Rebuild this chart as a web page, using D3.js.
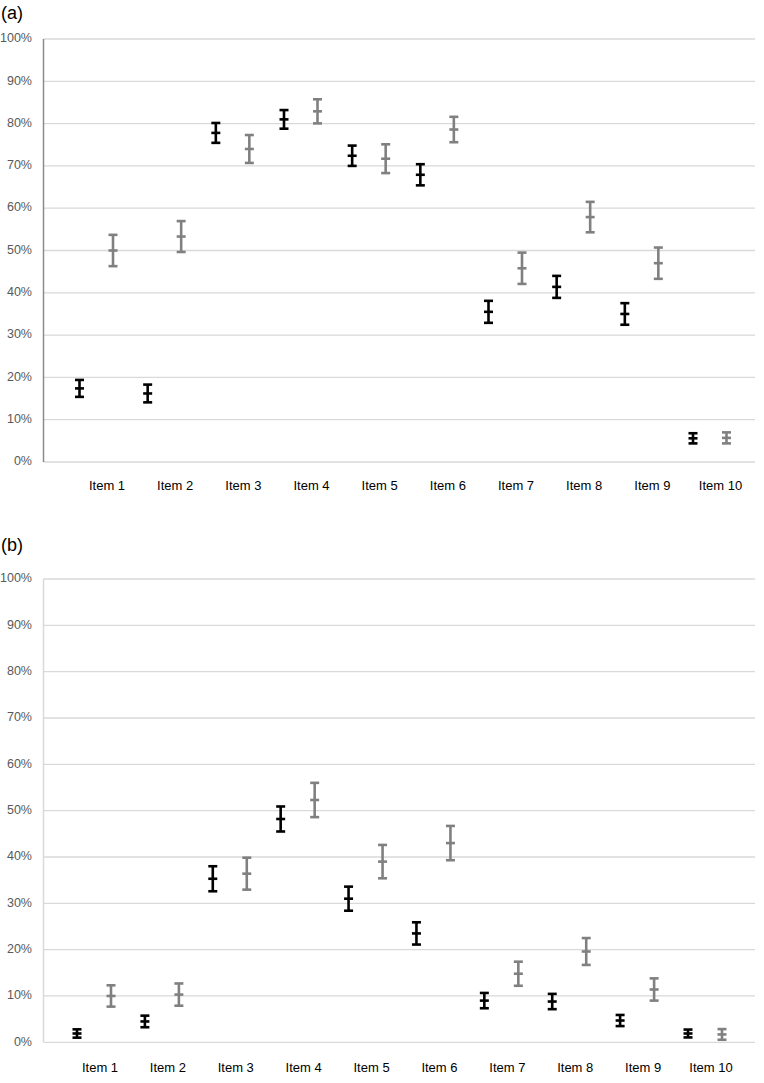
<!DOCTYPE html>
<html>
<head>
<meta charset="utf-8">
<script src="https://cdn.jsdelivr.net/npm/d3@7"></script>
<style>
  html, body { margin: 0; padding: 0; background: #fff; }
  svg { display: block; }
  text { font-family: "Liberation Sans", Arial, sans-serif; }
</style>
</head>
<body>
<svg id="chart" width="764" height="1083"></svg>
<script>
// ---- Data ----
const categories = ["Item 1", "Item 2", "Item 3", "Item 4", "Item 5", "Item 6", "Item 7", "Item 8", "Item 9", "Item 10"];
const tickValues = [0, 10, 20, 30, 40, 50, 60, 70, 80, 90, 100];
const tickLabels = ["0%", "10%", "20%", "30%", "40%", "50%", "60%", "70%", "80%", "90%", "100%"];
const panelTitles = ["(a)", "(b)"];

// Panel (a)
const aBlackMean = [17.4, 16.2, 77.8, 81.0, 72.4, 67.9, 35.5, 41.4, 35.0, 5.6];
const aBlackErr  = [2.0, 2.1, 2.35, 2.2, 2.4, 2.5, 2.6, 2.6, 2.55, 1.2];
const aGrayMean  = [50.0, 53.3, 74.0, 82.9, 71.7, 78.6, 45.8, 57.9, 47.0, 5.7];
const aGrayErr   = [3.7, 3.65, 3.3, 2.85, 3.4, 3.0, 3.7, 3.6, 3.7, 1.3];

// Panel (b)
const bBlackMean = [1.9, 4.5, 35.3, 48.2, 31.0, 23.5, 9.0, 8.8, 4.7, 1.9];
const bBlackErr  = [0.9, 1.25, 2.7, 2.7, 2.6, 2.4, 1.65, 1.65, 1.2, 0.85];
const bGrayMean  = [10.0, 10.3, 36.4, 52.3, 39.0, 43.0, 14.8, 19.6, 11.4, 1.7];
const bGrayErr   = [2.3, 2.4, 3.45, 3.7, 3.6, 3.7, 2.6, 2.9, 2.4, 1.15];

// ---- Layout ----
const panels = [
  { title: panelTitles[0], top: 39, bottom: 462, xr: [96, 709.5], labelY: 487, labelShift: 11, axisColor: "#8c8c8c", titleY: 14,
    series: [{ mean: aBlackMean, err: aBlackErr, color: "#000000", dx: -16.5 },
             { mean: aGrayMean,  err: aGrayErr,  color: "#808080", dx: 17 }] },
  { title: panelTitles[1], top: 579, bottom: 1042.3, xr: [94, 705], labelY: 1069, labelShift: 6, axisColor: "#d9d9d9", titleY: 546,
    series: [{ mean: bBlackMean, err: bBlackErr, color: "#000000", dx: -17 },
             { mean: bGrayMean,  err: bGrayErr,  color: "#808080", dx: 17 }] }
];

const left = 43.5, right = 755;
const svg = d3.select("#chart");

panels.forEach(p => {
  const g = svg.append("g");
  const y = d3.scaleLinear().domain([0, 100]).range([p.bottom, p.top]);
  const x = d3.scalePoint().domain(categories).range(p.xr);

  g.append("text").attr("x", 1).attr("y", p.titleY)
    .attr("dominant-baseline", "middle")
    .attr("font-size", 18).attr("fill", "#000").text(p.title);

  // gridlines
  g.selectAll("line.grid").data(tickValues).enter().append("line")
    .attr("x1", left).attr("x2", right)
    .attr("y1", d => y(d)).attr("y2", d => y(d))
    .attr("stroke", "#d9d9d9").attr("stroke-width", 1.3);

  // y axis line
  g.append("line").attr("x1", left).attr("x2", left)
    .attr("y1", y(100)).attr("y2", y(0))
    .attr("stroke", p.axisColor).attr("stroke-width", 1.5);

  // y tick labels
  g.selectAll("text.yt").data(tickValues).enter().append("text")
    .attr("x", 32).attr("y", d => y(d))
    .attr("text-anchor", "end").attr("dominant-baseline", "middle")
    .attr("font-size", 12.5).attr("fill", "#595959")
    .text((d, i) => tickLabels[i]);

  // category labels
  g.selectAll("text.xt").data(categories).enter().append("text")
    .attr("x", d => x(d) + p.labelShift).attr("y", p.labelY)
    .attr("text-anchor", "middle").attr("dominant-baseline", "middle")
    .attr("font-size", 13).attr("fill", "#000")
    .text(d => d);

  // error bars
  p.series.forEach(s => {
    const data = categories.map((c, i) => ({ c, m: s.mean[i], e: s.err[i] }));
    const eg = g.append("g").attr("stroke", s.color).attr("stroke-width", 2.6).attr("fill", "none");
    const cap = 4.5;
    data.forEach(d => {
      const cx = x(d.c) + s.dx;
      eg.append("line").attr("x1", cx).attr("x2", cx).attr("y1", y(d.m + d.e)).attr("y2", y(d.m - d.e));
      eg.append("line").attr("x1", cx - cap).attr("x2", cx + cap).attr("y1", y(d.m + d.e)).attr("y2", y(d.m + d.e));
      eg.append("line").attr("x1", cx - cap).attr("x2", cx + cap).attr("y1", y(d.m - d.e)).attr("y2", y(d.m - d.e));
      eg.append("line").attr("x1", cx - cap).attr("x2", cx + cap).attr("y1", y(d.m)).attr("y2", y(d.m));
    });
  });
});
</script>
</body>
</html>
